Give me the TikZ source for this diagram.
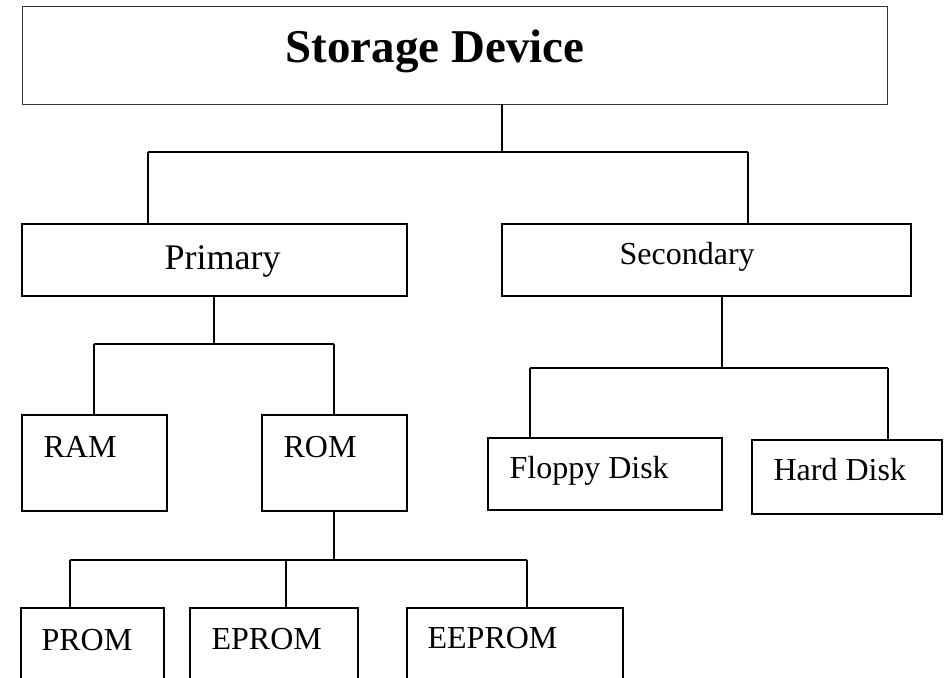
\documentclass[tikz,border=0pt]{standalone}
\usepackage{fontspec}
\setmainfont{Liberation Serif}
\usetikzlibrary{calc}

\tikzset{every picture/.style={line width=1.2pt}}
\tikzset{
  box/.style={draw, rectangle, outer sep=0pt, inner sep=0pt, anchor=north west},
  lbl/.style={anchor=base west, inner sep=0pt, font=\fontsize{32}{38}\selectfont}
}

\begin{document}
\begin{tikzpicture}[x=1pt,y=1pt,yscale=-1,xscale=1]
	\useasboundingbox (0,0) rectangle (944,677);
	\clip (0,0) rectangle (944,677);
	
	%Shape: Rectangle [top]
	\node [box, line width=1pt, draw=black!80, minimum width=865pt, minimum height=97pt] (dev) at (22,7) {};
	%Shape: Rectangle [second row]
	\node [box, minimum width=385pt, minimum height=72pt] (pri) at (22,224) {};
	\node [box, minimum width=409pt, minimum height=72pt] (sec) at (502,224) {};
	%Shape: Rectangle [third row]
	\node [box, minimum width=145pt, minimum height=96pt] (ram) at (22,415) {};
	\node [box, minimum width=145pt, minimum height=96pt] (rom) at (262,415) {};
	\node [box, minimum width=234pt, minimum height=72pt] (fdd) at (488,438) {};
	\node [box, minimum width=190pt, minimum height=74pt] (hdd) at (752,440) {};
	%Shape: Rectangle [bottom row, cut at the lower edge]
	\node [box, minimum width=143pt, minimum height=90pt] (prom) at (21,608) {};
	\node [box, minimum width=168pt, minimum height=90pt] (eprom) at (190,608) {};
	\node [box, minimum width=216pt, minimum height=90pt] (eeprom) at (407,608) {};
	
	%Straight Lines [storage device -> primary, secondary]
	\coordinate (j0) at (502,152);
	\coordinate (j0l) at (148,152);
	\coordinate (j0r) at (748,152);
	\draw (dev.south -| j0) -- (j0) ;
	\draw (j0l) -- (j0r) ;
	\draw (j0l) -- (j0l |- pri.north) ;
	\draw (j0r) -- (j0r |- sec.north) ;
	%Straight Lines [primary -> ram, rom]
	\coordinate (j1) at (214,344);
	\coordinate (j1l) at (94,344);
	\coordinate (j1r) at (334,344);
	\draw (pri.south -| j1) -- (j1) ;
	\draw (j1l) -- (j1r) ;
	\draw (j1l) -- (j1l |- ram.north) ;
	\draw (j1r) -- (j1r |- rom.north) ;
	%Straight Lines [secondary -> floppy, hard disk]
	\coordinate (j2) at (722,368);
	\coordinate (j2l) at (530,368);
	\coordinate (j2r) at (888,368);
	\draw (sec.south -| j2) -- (j2) ;
	\draw (j2l) -- (j2r) ;
	\draw (j2l) -- (j2l |- fdd.north) ;
	\draw (j2r) -- (j2r |- hdd.north) ;
	%Straight Lines [rom -> prom, eprom, eeprom]
	\coordinate (j3) at (334,560);
	\coordinate (j3l) at (70,560);
	\coordinate (j3m) at (286,560);
	\coordinate (j3r) at (527,560);
	\draw (rom.south -| j3) -- (j3) ;
	\draw (j3l) -- (j3r) ;
	\draw (j3l) -- (j3l |- prom.north) ;
	\draw (j3m) -- (j3m |- eprom.north) ;
	\draw (j3r) -- (j3r |- eeprom.north) ;
	
	% Text Node
	\node [lbl, font=\fontsize{47}{56}\selectfont\bfseries] (tdev) at (285,63) {Storage Device};
	% Text Node
	\node [lbl, font=\fontsize{36}{43}\selectfont] (tpri) at (164,269) {Primary};
	% Text Node
	\node [lbl] (tsec) at (619,264) {Secondary};
	% Text Node
	\node [lbl] (tram) at (43,457) {RAM};
	% Text Node
	\node [lbl] (trom) at (283,457) {ROM};
	% Text Node
	\node [lbl] (tfdd) at (509,478) {Floppy Disk};
	% Text Node
	\node [lbl] (thdd) at (773,480) {Hard Disk};
	% Text Node
	\node [lbl] (tprom) at (41,650) {PROM};
	% Text Node
	\node [lbl] (teprom) at (211,649) {EPROM};
	% Text Node
	\node [lbl] (teeprom) at (427,648) {EEPROM};
	
\end{tikzpicture}
\end{document}
